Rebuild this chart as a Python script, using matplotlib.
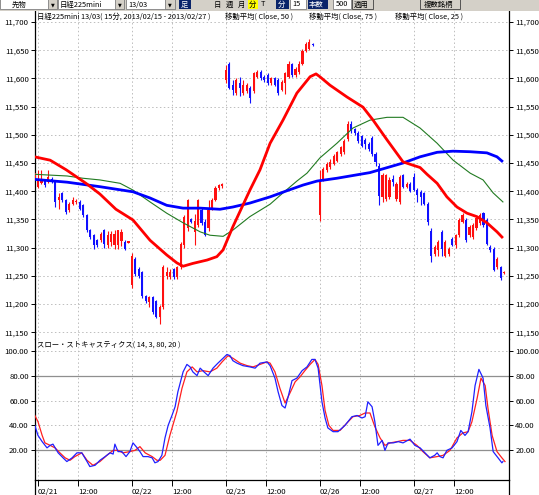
import matplotlib
matplotlib.use("Agg")
import matplotlib.pyplot as plt
from matplotlib.patches import Rectangle
from matplotlib.lines import Line2D
from matplotlib.ticker import FuncFormatter
import numpy as np

plt.rcParams['font.family'] = ['Noto Sans CJK JP', 'DejaVu Sans']

# ---------------- data ----------------
bar_pos = list(range(0, 81)) + list(range(82, 136))
opens = [11420, 11408, 11414, 11420, 11417, 11422, 11417, 11384, 11396, 11384, 11366, 11378, 11381, 11381, 11375, 11357, 11331, 11322, 11313, 11313,
         11331, 11305, 11310, 11304, 11305, 11312, 11310, 11309,
         11233, 11280, 11262, 11256, 11214, 11203, 11212, 11206, 11177, 11195, 11250, 11248, 11262, 11248, 11265, 11304, 11334, 11351, 11328, 11340,
         11366, 11346, 11334, 11369, 11384, 11405, 11409,
         11597, 11626, 11588, 11574, 11591, 11574, 11577, 11583, 11577, 11603, 11612, 11603, 11606, 11591, 11600, 11597, 11580, 11591, 11603, 11626,
         11606, 11612, 11626, 11649, 11652, 11661,
         11358, 11422, 11437, 11443, 11449, 11454, 11466, 11469, 11492, 11520, 11510, 11504, 11498, 11490, 11484, 11495, 11466, 11445, 11390, 11387,
         11390, 11422, 11387, 11381, 11428, 11408, 11413,
         11425, 11402, 11399, 11396, 11378, 11330, 11289, 11295, 11328, 11286, 11289, 11316, 11304, 11322, 11346, 11349, 11322, 11319, 11334, 11343,
         11361, 11349, 11301, 11298, 11265, 11265, 11255]
highs = [11437, 11437, 11437, 11422, 11437, 11425, 11420, 11396, 11398, 11387, 11380, 11390, 11386, 11384, 11377, 11360, 11333, 11325, 11316, 11328,
         11333, 11330, 11330, 11331, 11332, 11333, 11313, 11312,
         11290, 11283, 11265, 11258, 11216, 11215, 11214, 11208, 11198, 11270, 11265, 11262, 11264, 11268, 11310, 11357, 11387, 11353, 11360, 11386,
         11370, 11350, 11384, 11388, 11410, 11413, 11414,
         11623, 11629, 11597, 11600, 11603, 11597, 11591, 11586, 11612, 11615, 11615, 11606, 11609, 11603, 11603, 11600, 11597, 11612, 11630, 11628,
         11620, 11630, 11652, 11664, 11670, 11662,
         11437, 11443, 11452, 11457, 11466, 11472, 11481, 11492, 11525, 11525, 11512, 11507, 11500, 11495, 11487, 11498, 11469, 11450, 11432, 11430,
         11425, 11428, 11416, 11428, 11430, 11416, 11416,
         11432, 11405, 11402, 11399, 11380, 11335, 11305, 11313, 11331, 11313, 11301, 11318, 11325, 11352, 11361, 11352, 11340, 11343, 11355, 11361,
         11364, 11352, 11304, 11301, 11283, 11268, 11258]
lows = [11415, 11405, 11412, 11408, 11415, 11414, 11372, 11369, 11381, 11360, 11363, 11375, 11378, 11366, 11354, 11328, 11316, 11298, 11301, 11310,
        11300, 11300, 11303, 11298, 11298, 11302, 11296, 11308,
        11228, 11250, 11246, 11210, 11202, 11195, 11183, 11175, 11165, 11192, 11245, 11245, 11245, 11245, 11262, 11300, 11330, 11343, 11305, 11336,
        11340, 11320, 11330, 11366, 11382, 11403, 11405,
        11592, 11581, 11571, 11571, 11568, 11571, 11574, 11556, 11574, 11600, 11597, 11594, 11588, 11588, 11586, 11571, 11577, 11572, 11600, 11603,
        11603, 11608, 11624, 11646, 11650, 11658,
        11347, 11418, 11434, 11440, 11446, 11451, 11463, 11466, 11489, 11504, 11500, 11486, 11478, 11475, 11472, 11463, 11445, 11375, 11380, 11383,
        11386, 11410, 11382, 11378, 11405, 11405, 11398,
        11400, 11381, 11375, 11375, 11340, 11274, 11286, 11286, 11286, 11284, 11286, 11302, 11300, 11318, 11343, 11310, 11318, 11316, 11331, 11340,
        11337, 11304, 11292, 11258, 11262, 11242, 11254]
closes = [11432, 11422, 11420, 11411, 11425, 11417, 11381, 11389, 11384, 11363, 11378, 11384, 11383, 11369, 11357, 11331, 11319, 11304, 11304, 11325,
          11307, 11322, 11325, 11325, 11331, 11328, 11298, 11311,
          11286, 11253, 11250, 11214, 11205, 11212, 11186, 11177, 11195, 11266, 11256, 11256, 11248, 11265, 11307, 11354, 11384, 11346, 11348, 11384,
          11343, 11322, 11366, 11384, 11405, 11411, 11412,
          11615, 11583, 11580, 11598, 11583, 11588, 11588, 11565, 11609, 11612, 11600, 11597, 11591, 11600, 11588, 11574, 11594, 11609, 11626, 11606,
          11617, 11626, 11649, 11661, 11664, 11659,
          11419, 11440, 11449, 11451, 11463, 11469, 11478, 11489, 11520, 11507, 11504, 11489, 11481, 11484, 11475, 11466, 11451, 11392, 11428, 11428,
          11419, 11416, 11413, 11425, 11408, 11413, 11400,
          11403, 11393, 11390, 11378, 11345, 11285, 11301, 11310, 11298, 11310, 11298, 11304, 11322, 11349, 11358, 11313, 11337, 11340, 11352, 11358,
          11340, 11307, 11295, 11260, 11280, 11247, 11257]

# moving averages (bar index, value)
ma25_idx = [0, 4.5, 9.1, 14.8, 18.8, 23.4, 28.3, 33.2, 38, 40.9, 42.7, 45.5, 49.6, 52.4, 54.2, 57, 61.9, 64.8, 67.7, 71.4, 75.4, 79.2,
            80.9, 82, 84.9, 89.8, 94.4, 97.3, 101.3, 105.9, 108.8, 110.8, 112.8, 115.7, 118.5, 121.4, 124.3, 127.1, 130, 132.9, 134.6]
ma25_val = [11461, 11455, 11438, 11414, 11395, 11368, 11349, 11313, 11287, 11273, 11267, 11272, 11278, 11284, 11296, 11337, 11402, 11438,
            11485, 11526, 11574, 11603, 11608, 11603, 11588, 11567, 11549, 11526, 11491, 11452, 11446, 11442, 11430, 11414, 11390, 11372,
            11361, 11355, 11344, 11328, 11317]
ma50_idx = [0, 9.4, 13.9, 18.8, 24.6, 28.3, 33.2, 38, 42.7, 47.6, 50.4, 54.2, 57, 61.9, 67.7, 71.4, 75.4, 78.3, 82, 86.9, 91.5, 96.4,
            101.3, 105.9, 110.8, 115.7, 120.3, 125.2, 128.9, 131.8, 134.6]
ma50_val = [11430, 11427, 11423, 11420, 11414, 11402, 11381, 11361, 11344, 11328, 11322, 11320, 11331, 11355, 11377, 11397, 11418, 11432,
            11459, 11485, 11512, 11526, 11531, 11531, 11512, 11485, 11455, 11432, 11420, 11397, 11381]
ma75_idx = [0, 9.4, 18.8, 28.3, 33.2, 38, 42.7, 47.6, 53.3, 57, 61.9, 67.7, 72.6, 77.2, 81.2, 86.9, 96.4, 105.9, 110.8, 115.7, 120.3,
            125.2, 130, 132.9, 134.6]
ma75_val = [11421, 11416, 11408, 11399, 11388, 11375, 11370, 11370, 11368, 11372, 11379, 11390, 11401, 11411, 11418, 11423, 11433, 11450,
            11461, 11469, 11471, 11470, 11468, 11461, 11452]

# slow stochastics
k_idx = [0.1, 1.0, 2.2, 3.6, 4.5, 5.3, 6.8, 8.2, 9.3, 10.8, 12.2, 13.6, 15.1, 15.9, 17.4, 18.8, 20.3, 21.7, 22.6, 23.1, 24.0, 25.1, 26.3,
         27.4, 28.3, 29.5, 30.3, 31.2, 32.6, 33.8, 34.6, 35.5, 36.6, 37.5, 38.4, 39.5, 40.4, 41.2, 42.7, 43.8, 44.7, 45.5, 46.7, 47.6,
         48.7, 49.9, 51.3, 52.7, 54.2, 55.3, 56.2, 57.0, 58.2, 59.9, 61.9, 63.4, 64.8, 66.8, 67.7, 69.1, 70.0, 71.1, 72.0, 72.8, 74.0,
         75.4, 76.9, 78.3, 79.7, 80.6, 81.5, 82.6, 83.5, 84.3, 85.8, 87.2, 89.2, 91.2, 92.7, 94.1, 95.0, 95.8, 97.0, 97.8, 98.7, 99.9,
         100.7, 101.6, 103.1, 104.5, 105.9, 107.9, 109.3, 110.8, 112.2, 113.6, 115.0, 115.7, 116.5, 117.4, 118.5, 120.0, 121.4, 122.5,
         123.7, 124.6, 125.7, 126.6, 127.7, 128.9, 129.7, 130.9, 131.8, 133.2, 134.3, 134.6]
k_val = [40, 32, 27, 22, 24, 25, 18, 14, 11, 14, 18, 18, 11, 7, 8, 12, 15, 18, 17, 25, 19, 19, 15, 19, 26, 22, 19, 15, 15, 14, 10, 11, 16,
         30, 40, 48, 55, 67, 83, 89, 87, 83, 80, 86, 83, 80, 86, 90, 94, 97, 96, 92, 90, 88, 87, 86, 90, 91, 88, 78, 67, 56, 54, 62, 76,
         78, 84, 87, 93, 93, 86, 59, 46, 38, 35, 35, 40, 47, 48, 46, 47, 59, 55, 43, 24, 28, 20, 26, 26, 27, 26, 29, 24, 22, 18, 14, 16,
         18, 15, 14, 20, 22, 27, 36, 32, 35, 51, 72, 85, 78, 56, 38, 19, 14, 10, 11]
d_idx = [0.1, 1.0, 2.2, 3.0, 4.5, 5.9, 7.3, 8.8, 10.2, 11.6, 13.6, 15.1, 16.8, 18.8, 20.8, 22.6, 24.0, 25.4, 27.4, 28.9, 30.3, 31.8, 33.8,
         35.2, 36.1, 37.5, 38.9, 40.9, 42.4, 43.8, 45.3, 46.7, 48.4, 50.4, 52.4, 53.9, 55.6, 57.0, 59.1, 61.1, 62.8, 64.8, 66.8, 67.7,
         69.1, 70.5, 72.0, 73.4, 74.9, 76.3, 77.7, 79.2, 80.6, 81.5, 82.6, 83.5, 84.6, 85.8, 87.8, 89.8, 91.5, 93.5, 95.0, 96.4, 97.8,
         99.3, 100.7, 102.2, 104.2, 105.9, 107.9, 109.9, 111.6, 113.6, 115.7, 117.4, 119.4, 121.4, 123.1, 124.6, 125.7, 127.2, 128.3,
         129.5, 130.3, 131.5, 132.9, 134.3, 135.2]
d_val = [48, 43, 32, 26, 24, 22, 18, 14, 12, 15, 18, 12, 8, 11, 16, 20, 20, 18, 19, 20, 23, 18, 15, 12, 12, 16, 32, 51, 70, 83, 87, 83,
         84, 83, 86, 91, 96, 94, 90, 88, 87, 89, 91, 90, 83, 70, 58, 66, 75, 79, 84, 89, 93, 89, 72, 52, 40, 36, 36, 42, 47, 48, 50, 50,
         39, 30, 24, 26, 27, 28, 28, 24, 19, 14, 15, 16, 20, 30, 34, 35, 43, 62, 78, 72, 54, 32, 19, 14, 11]

tick_pos = [1, 12.6, 28, 39.6, 55, 66.6, 82, 93.6, 109, 120.6]
tick_labels = ['02/21', '12:00', '02/22', '12:00', '02/25', '12:00', '02/26', '12:00', '02/27', '12:00']
price_ticks = list(range(11150, 11701, 50))
stoch_ticks = [20, 40, 60, 80, 100]

title_main = '日経225mini 13/03( 15分, 2013/02/15 - 2013/02/27 )'
ma_titles = ['移動平均( Close, 50 )', '移動平均( Close, 75 )', '移動平均( Close, 25 )']
stoch_title = 'スロー・ストキャスティクス( 14, 3, 80, 20 )'

# ---------------- figure ----------------
W, H = 539, 495
fig = plt.figure(figsize=(W / 100, H / 100), dpi=100)
fig.patch.set_facecolor('white')


def rect(x0, y0, x1, y1):
    return [x0 / W, 1 - y1 / H, (x1 - x0) / W, (y1 - y0) / H]


FS = 5.6
FT = 5.3
ax = fig.add_axes(rect(35, 11, 509, 339))
axs = fig.add_axes(rect(35, 339, 509, 480), sharex=ax)

x0, x1 = 0.144, 136.35
ax.set_xlim(x0, x1)
ax.set_ylim(11138, 11719.5)
axs.set_ylim(-3.8, 109.4)

grid_kw = dict(color='#bdbdbd', lw=0.7, linestyle=(0, (1.5, 2.5)))
for t in tick_pos:
    ax.axvline(t, zorder=0, **grid_kw)
    axs.axvline(t, zorder=0, **grid_kw)
for p in price_ticks:
    ax.axhline(p, zorder=0, **grid_kw)
for v in [100, 60, 40]:
    axs.axhline(v, zorder=0, **grid_kw)
for v in [80, 20]:
    axs.axhline(v, zorder=0, color='#8f8f8f', lw=0.9)

# candles
o = np.array(opens, float); c = np.array(closes, float)
hi = np.array(highs, float); lo = np.array(lows, float)
pos = np.array(bar_pos, float)
up = c >= o
cols = np.where(up, '#ff1010', '#1010ff')
ax.vlines(pos, lo, hi, colors=cols, lw=0.8, zorder=2)
ax.bar(pos, np.maximum(np.abs(c - o), 1.6), bottom=np.minimum(o, c), width=0.62,
       color=cols, linewidth=0, zorder=3)

# moving averages
ax.plot(ma50_idx, ma50_val, color='#217a21', lw=0.8, zorder=4)
ax.plot(ma75_idx, ma75_val, color='#0000ff', lw=2.0, zorder=5, solid_capstyle='butt')
ax.plot(ma25_idx, ma25_val, color='#ff0000', lw=2.0, zorder=6, solid_capstyle='butt')

# stochastics
axs.plot(d_idx, d_val, color='#ff2020', lw=0.9, zorder=4)
axs.plot(k_idx, k_val, color='#2020ff', lw=0.9, zorder=5)

# axes styling
for a in (ax, axs):
    for s in ('top', 'bottom'):
        a.spines[s].set_visible(False)
    for s in ('left', 'right'):
        a.spines[s].set_color('black')
        a.spines[s].set_linewidth(0.9)
    a.tick_params(axis='y', which='both', left=True, right=True, labelleft=True, labelright=True,
                  length=3, width=0.7, pad=1.5, labelsize=FS, colors='black')
axs.spines['bottom'].set_visible(True)
axs.spines['bottom'].set_linewidth(0.9)

ax.set_yticks(price_ticks)
ax.yaxis.set_major_formatter(FuncFormatter(lambda v, p: f'{int(v):,}'))
axs.set_yticks(stoch_ticks)
axs.yaxis.set_major_formatter(FuncFormatter(lambda v, p: f'{v:.2f}'))

ax.tick_params(axis='x', which='both', bottom=False, labelbottom=False)
axs.set_xticks(tick_pos)
axs.set_xticklabels(tick_labels, ha='left')
axs.tick_params(axis='x', length=4, width=0.7, pad=1.5, labelsize=FS)

# titles
def ftext(x, y, s, **kw):
    fig.text(x / W, 1 - y / H, s, fontsize=FT, va='center', ha='left', **kw)

ftext(37, 17, title_main)
for xx, s in zip([225, 309, 395], ma_titles):
    ftext(xx, 17, s)
ftext(37, 345, stoch_title)

# spine extensions to bottom
fig.add_artist(Line2D([35 / W, 35 / W], [0, 1 - 480 / H], color='black', lw=0.9))
fig.add_artist(Line2D([509 / W, 509 / W], [0, 1 - 480 / H], color='black', lw=0.9))

# toolbar
tb = fig.add_axes([0, 1 - 11 / H, 1, 11 / H])
tb.set_xlim(0, W); tb.set_ylim(11, 0); tb.axis('off')
tb.add_patch(Rectangle((0, 0), W, 11, color='#d4d0c8'))
for (a0, a1) in [(0, 57), (58, 124), (126, 175), (290, 306), (333, 351)]:
    tb.add_patch(Rectangle((a0, -1), a1 - a0, 10, facecolor='white', edgecolor='#808080', lw=0.6))
for (a0, a1) in [(48, 57), (115, 124), (165, 175)]:
    tb.add_patch(Rectangle((a0, -1), a1 - a0, 10, facecolor='#d4d0c8', edgecolor='#808080', lw=0.6))
    tb.text((a0 + a1) / 2, 4.5, '▼', fontsize=3.5, ha='center', va='center', family='DejaVu Sans')
for (a0, a1) in [(179, 191), (276, 289), (308, 328)]:
    tb.add_patch(Rectangle((a0, -1), a1 - a0, 10, facecolor='#0a246a', edgecolor='none'))
tb.add_patch(Rectangle((248, -1), 10, 10, facecolor='#ffff00', edgecolor='none'))
for (a0, a1) in [(352, 373), (420, 460)]:
    tb.add_patch(Rectangle((a0, -1), a1 - a0, 10, facecolor='#d4d0c8', edgecolor='#404040', lw=0.6))
toolbar_items = [(12, '先物', 'black'), (60, '日経225mini', 'black'), (128, '13/03', 'black'),
                 (181, '足', 'white'), (214, '日', 'black'), (226, '週', 'black'), (238, '月', 'black'),
                 (249, '分', 'black'), (261, 'T', 'black'), (278, '分', 'white'), (292, '15', 'black'),
                 (309, '本数', 'white'), (336, '500', 'black'), (354, '適用', 'black'), (424, '複数銘柄', 'black')]
for xx, s, colr in toolbar_items:
    tb.text(xx, 4.5, s, fontsize=FT, ha='left', va='center', color=colr)

fig.savefig('out.png', dpi=100, facecolor='white')
